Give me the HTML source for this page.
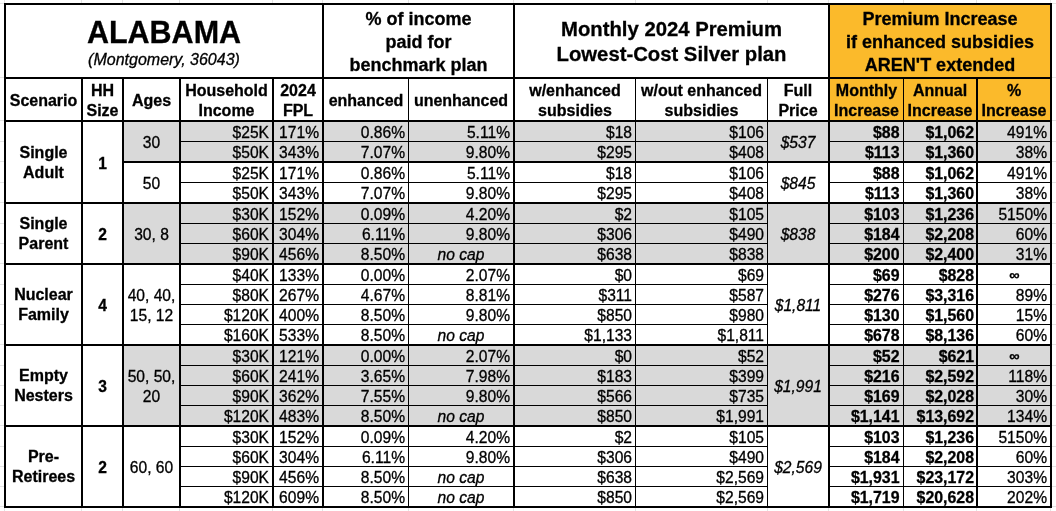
<!DOCTYPE html>
<html><head><meta charset="utf-8"><style>
html,body{margin:0;padding:0;background:#fff;width:1056px;height:511px;overflow:hidden;position:relative}
body div{position:absolute}
#w{left:0;top:0;width:1056px;height:511px;will-change:transform;-webkit-font-smoothing:antialiased}
.t{font-family:"Liberation Sans", sans-serif;white-space:nowrap;color:#000;-webkit-text-stroke:0.3px #000}
</style></head><body><div id="w">
<div style="left:828px;top:3px;width:224px;height:120px;background:#fbba2b"></div>
<div style="left:122px;top:120px;width:930px;height:22px;background:#d9d9d9"></div>
<div style="left:122px;top:141px;width:930px;height:22px;background:#d9d9d9"></div>
<div style="left:122px;top:202px;width:930px;height:22px;background:#d9d9d9"></div>
<div style="left:122px;top:223px;width:930px;height:21px;background:#d9d9d9"></div>
<div style="left:122px;top:243px;width:930px;height:22px;background:#d9d9d9"></div>
<div style="left:122px;top:344px;width:930px;height:22px;background:#d9d9d9"></div>
<div style="left:122px;top:365px;width:930px;height:21px;background:#d9d9d9"></div>
<div style="left:122px;top:385px;width:930px;height:21px;background:#d9d9d9"></div>
<div style="left:122px;top:405px;width:930px;height:22px;background:#d9d9d9"></div>
<div style="left:0px;top:3px;width:4px;height:1px;background:#e4e4e4"></div>
<div style="left:1052px;top:3px;width:4px;height:1px;background:#e4e4e4"></div>
<div style="left:0px;top:77px;width:4px;height:1px;background:#e4e4e4"></div>
<div style="left:1052px;top:77px;width:4px;height:1px;background:#e4e4e4"></div>
<div style="left:0px;top:120px;width:4px;height:1px;background:#e4e4e4"></div>
<div style="left:1052px;top:120px;width:4px;height:1px;background:#e4e4e4"></div>
<div style="left:0px;top:141px;width:4px;height:1px;background:#e4e4e4"></div>
<div style="left:1052px;top:141px;width:4px;height:1px;background:#e4e4e4"></div>
<div style="left:0px;top:161px;width:4px;height:1px;background:#e4e4e4"></div>
<div style="left:1052px;top:161px;width:4px;height:1px;background:#e4e4e4"></div>
<div style="left:0px;top:182px;width:4px;height:1px;background:#e4e4e4"></div>
<div style="left:1052px;top:182px;width:4px;height:1px;background:#e4e4e4"></div>
<div style="left:0px;top:202px;width:4px;height:1px;background:#e4e4e4"></div>
<div style="left:1052px;top:202px;width:4px;height:1px;background:#e4e4e4"></div>
<div style="left:0px;top:223px;width:4px;height:1px;background:#e4e4e4"></div>
<div style="left:1052px;top:223px;width:4px;height:1px;background:#e4e4e4"></div>
<div style="left:0px;top:243px;width:4px;height:1px;background:#e4e4e4"></div>
<div style="left:1052px;top:243px;width:4px;height:1px;background:#e4e4e4"></div>
<div style="left:0px;top:263px;width:4px;height:1px;background:#e4e4e4"></div>
<div style="left:1052px;top:263px;width:4px;height:1px;background:#e4e4e4"></div>
<div style="left:0px;top:284px;width:4px;height:1px;background:#e4e4e4"></div>
<div style="left:1052px;top:284px;width:4px;height:1px;background:#e4e4e4"></div>
<div style="left:0px;top:304px;width:4px;height:1px;background:#e4e4e4"></div>
<div style="left:1052px;top:304px;width:4px;height:1px;background:#e4e4e4"></div>
<div style="left:0px;top:324px;width:4px;height:1px;background:#e4e4e4"></div>
<div style="left:1052px;top:324px;width:4px;height:1px;background:#e4e4e4"></div>
<div style="left:0px;top:344px;width:4px;height:1px;background:#e4e4e4"></div>
<div style="left:1052px;top:344px;width:4px;height:1px;background:#e4e4e4"></div>
<div style="left:0px;top:365px;width:4px;height:1px;background:#e4e4e4"></div>
<div style="left:1052px;top:365px;width:4px;height:1px;background:#e4e4e4"></div>
<div style="left:0px;top:385px;width:4px;height:1px;background:#e4e4e4"></div>
<div style="left:1052px;top:385px;width:4px;height:1px;background:#e4e4e4"></div>
<div style="left:0px;top:405px;width:4px;height:1px;background:#e4e4e4"></div>
<div style="left:1052px;top:405px;width:4px;height:1px;background:#e4e4e4"></div>
<div style="left:0px;top:425px;width:4px;height:1px;background:#e4e4e4"></div>
<div style="left:1052px;top:425px;width:4px;height:1px;background:#e4e4e4"></div>
<div style="left:0px;top:446px;width:4px;height:1px;background:#e4e4e4"></div>
<div style="left:1052px;top:446px;width:4px;height:1px;background:#e4e4e4"></div>
<div style="left:0px;top:466px;width:4px;height:1px;background:#e4e4e4"></div>
<div style="left:1052px;top:466px;width:4px;height:1px;background:#e4e4e4"></div>
<div style="left:0px;top:486px;width:4px;height:1px;background:#e4e4e4"></div>
<div style="left:1052px;top:486px;width:4px;height:1px;background:#e4e4e4"></div>
<div style="left:0px;top:506px;width:4px;height:1px;background:#e4e4e4"></div>
<div style="left:1052px;top:506px;width:4px;height:1px;background:#e4e4e4"></div>
<div style="left:4px;top:0px;width:1px;height:3px;background:#e4e4e4"></div>
<div style="left:4px;top:508px;width:1px;height:3px;background:#e4e4e4"></div>
<div style="left:81px;top:0px;width:1px;height:3px;background:#e4e4e4"></div>
<div style="left:81px;top:508px;width:1px;height:3px;background:#e4e4e4"></div>
<div style="left:122px;top:0px;width:1px;height:3px;background:#e4e4e4"></div>
<div style="left:122px;top:508px;width:1px;height:3px;background:#e4e4e4"></div>
<div style="left:179px;top:0px;width:1px;height:3px;background:#e4e4e4"></div>
<div style="left:179px;top:508px;width:1px;height:3px;background:#e4e4e4"></div>
<div style="left:272px;top:0px;width:1px;height:3px;background:#e4e4e4"></div>
<div style="left:272px;top:508px;width:1px;height:3px;background:#e4e4e4"></div>
<div style="left:322px;top:0px;width:1px;height:3px;background:#e4e4e4"></div>
<div style="left:322px;top:508px;width:1px;height:3px;background:#e4e4e4"></div>
<div style="left:408px;top:0px;width:1px;height:3px;background:#e4e4e4"></div>
<div style="left:408px;top:508px;width:1px;height:3px;background:#e4e4e4"></div>
<div style="left:513px;top:0px;width:1px;height:3px;background:#e4e4e4"></div>
<div style="left:513px;top:508px;width:1px;height:3px;background:#e4e4e4"></div>
<div style="left:635px;top:0px;width:1px;height:3px;background:#e4e4e4"></div>
<div style="left:635px;top:508px;width:1px;height:3px;background:#e4e4e4"></div>
<div style="left:767px;top:0px;width:1px;height:3px;background:#e4e4e4"></div>
<div style="left:767px;top:508px;width:1px;height:3px;background:#e4e4e4"></div>
<div style="left:828px;top:0px;width:1px;height:3px;background:#e4e4e4"></div>
<div style="left:828px;top:508px;width:1px;height:3px;background:#e4e4e4"></div>
<div style="left:903px;top:0px;width:1px;height:3px;background:#e4e4e4"></div>
<div style="left:903px;top:508px;width:1px;height:3px;background:#e4e4e4"></div>
<div style="left:976px;top:0px;width:1px;height:3px;background:#e4e4e4"></div>
<div style="left:976px;top:508px;width:1px;height:3px;background:#e4e4e4"></div>
<div style="left:1050px;top:0px;width:1px;height:3px;background:#e4e4e4"></div>
<div style="left:1050px;top:508px;width:1px;height:3px;background:#e4e4e4"></div>
<div style="left:4px;top:3px;width:1048px;height:2px;background:#000"></div>
<div style="left:4px;top:506px;width:1048px;height:2px;background:#000"></div>
<div style="left:4px;top:3px;width:2px;height:505px;background:#000"></div>
<div style="left:1050px;top:3px;width:2px;height:505px;background:#000"></div>
<div style="left:4px;top:77px;width:1048px;height:2px;background:#000"></div>
<div style="left:322px;top:3px;width:2px;height:76px;background:#000"></div>
<div style="left:513px;top:3px;width:2px;height:76px;background:#000"></div>
<div style="left:828px;top:3px;width:2px;height:76px;background:#000"></div>
<div style="left:4px;top:120px;width:1048px;height:2px;background:#000"></div>
<div style="left:81px;top:77px;width:2px;height:429px;background:#000"></div>
<div style="left:122px;top:77px;width:2px;height:429px;background:#000"></div>
<div style="left:179px;top:77px;width:2px;height:429px;background:#000"></div>
<div style="left:272px;top:77px;width:2px;height:429px;background:#000"></div>
<div style="left:322px;top:77px;width:2px;height:429px;background:#000"></div>
<div style="left:408px;top:77px;width:1px;height:429px;background:#000"></div>
<div style="left:513px;top:77px;width:2px;height:429px;background:#000"></div>
<div style="left:635px;top:77px;width:1px;height:429px;background:#000"></div>
<div style="left:767px;top:77px;width:1px;height:429px;background:#000"></div>
<div style="left:828px;top:77px;width:2px;height:429px;background:#000"></div>
<div style="left:903px;top:77px;width:1px;height:429px;background:#000"></div>
<div style="left:976px;top:77px;width:2px;height:429px;background:#000"></div>
<div style="left:179px;top:141px;width:589px;height:1px;background:#000"></div>
<div style="left:828px;top:141px;width:224px;height:1px;background:#000"></div>
<div style="left:122px;top:161px;width:59px;height:2px;background:#000"></div>
<div style="left:179px;top:161px;width:589px;height:2px;background:#000"></div>
<div style="left:767px;top:161px;width:63px;height:2px;background:#000"></div>
<div style="left:828px;top:161px;width:224px;height:2px;background:#000"></div>
<div style="left:179px;top:182px;width:589px;height:1px;background:#000"></div>
<div style="left:828px;top:182px;width:224px;height:1px;background:#000"></div>
<div style="left:4px;top:202px;width:1048px;height:2px;background:#000"></div>
<div style="left:179px;top:223px;width:589px;height:1px;background:#000"></div>
<div style="left:828px;top:223px;width:224px;height:1px;background:#000"></div>
<div style="left:179px;top:243px;width:589px;height:1px;background:#000"></div>
<div style="left:828px;top:243px;width:224px;height:1px;background:#000"></div>
<div style="left:4px;top:263px;width:1048px;height:2px;background:#000"></div>
<div style="left:179px;top:284px;width:589px;height:1px;background:#000"></div>
<div style="left:828px;top:284px;width:224px;height:1px;background:#000"></div>
<div style="left:179px;top:304px;width:589px;height:1px;background:#000"></div>
<div style="left:828px;top:304px;width:224px;height:1px;background:#000"></div>
<div style="left:179px;top:324px;width:589px;height:1px;background:#000"></div>
<div style="left:828px;top:324px;width:224px;height:1px;background:#000"></div>
<div style="left:4px;top:344px;width:1048px;height:2px;background:#000"></div>
<div style="left:179px;top:365px;width:589px;height:1px;background:#000"></div>
<div style="left:828px;top:365px;width:224px;height:1px;background:#000"></div>
<div style="left:179px;top:385px;width:589px;height:1px;background:#000"></div>
<div style="left:828px;top:385px;width:224px;height:1px;background:#000"></div>
<div style="left:179px;top:405px;width:589px;height:1px;background:#000"></div>
<div style="left:828px;top:405px;width:224px;height:1px;background:#000"></div>
<div style="left:4px;top:425px;width:1048px;height:2px;background:#000"></div>
<div style="left:179px;top:446px;width:589px;height:1px;background:#000"></div>
<div style="left:828px;top:446px;width:224px;height:1px;background:#000"></div>
<div style="left:179px;top:466px;width:589px;height:1px;background:#000"></div>
<div style="left:828px;top:466px;width:224px;height:1px;background:#000"></div>
<div style="left:179px;top:486px;width:589px;height:1px;background:#000"></div>
<div style="left:828px;top:486px;width:224px;height:1px;background:#000"></div>
<div class="t" style="left:6px;width:316px;text-align:center;top:17.18px;font-size:30.5px;line-height:30.5px;font-weight:bold">ALABAMA</div>
<div class="t" style="left:6px;width:316px;text-align:center;top:52.46px;font-size:16px;line-height:16px;font-style:italic">(Montgomery, 36043)</div>
<div class="t" style="left:324px;width:189px;text-align:center;top:9.76px;font-size:18px;line-height:18px;font-weight:bold">% of income</div>
<div class="t" style="left:324px;width:189px;text-align:center;top:32.76px;font-size:18px;line-height:18px;font-weight:bold">paid for</div>
<div class="t" style="left:324px;width:189px;text-align:center;top:55.76px;font-size:18px;line-height:18px;font-weight:bold">benchmark plan</div>
<div class="t" style="left:515px;width:313px;text-align:center;top:18.82px;font-size:20.3px;line-height:20.3px;font-weight:bold">Monthly 2024 Premium</div>
<div class="t" style="left:515px;width:313px;text-align:center;top:43.82px;font-size:20.3px;line-height:20.3px;font-weight:bold">Lowest-Cost Silver plan</div>
<div class="t" style="left:830px;width:220px;text-align:center;top:9.76px;font-size:18px;line-height:18px;font-weight:bold">Premium Increase</div>
<div class="t" style="left:830px;width:220px;text-align:center;top:32.76px;font-size:18px;line-height:18px;font-weight:bold">if enhanced subsidies</div>
<div class="t" style="left:830px;width:220px;text-align:center;top:55.76px;font-size:18px;line-height:18px;font-weight:bold">AREN'T extended</div>
<div class="t" style="left:6px;width:75px;text-align:center;top:93.46px;font-size:16px;line-height:16px;font-weight:bold">Scenario</div>
<div class="t" style="left:83px;width:39px;text-align:center;top:83.46px;font-size:16px;line-height:16px;font-weight:bold">HH</div>
<div class="t" style="left:83px;width:39px;text-align:center;top:103.46px;font-size:16px;line-height:16px;font-weight:bold">Size</div>
<div class="t" style="left:124px;width:55px;text-align:center;top:93.46px;font-size:16px;line-height:16px;font-weight:bold">Ages</div>
<div class="t" style="left:181px;width:91px;text-align:center;top:83.46px;font-size:16px;line-height:16px;font-weight:bold">Household</div>
<div class="t" style="left:181px;width:91px;text-align:center;top:103.46px;font-size:16px;line-height:16px;font-weight:bold">Income</div>
<div class="t" style="left:274px;width:48px;text-align:center;top:83.46px;font-size:16px;line-height:16px;font-weight:bold">2024</div>
<div class="t" style="left:274px;width:48px;text-align:center;top:103.46px;font-size:16px;line-height:16px;font-weight:bold">FPL</div>
<div class="t" style="left:324px;width:84px;text-align:center;top:93.46px;font-size:16px;line-height:16px;font-weight:bold">enhanced</div>
<div class="t" style="left:409px;width:104px;text-align:center;top:93.46px;font-size:16px;line-height:16px;font-weight:bold">unenhanced</div>
<div class="t" style="left:515px;width:120px;text-align:center;top:83.46px;font-size:16px;line-height:16px;font-weight:bold">w/enhanced</div>
<div class="t" style="left:515px;width:120px;text-align:center;top:103.46px;font-size:16px;line-height:16px;font-weight:bold">subsidies</div>
<div class="t" style="left:636px;width:131px;text-align:center;top:83.46px;font-size:16px;line-height:16px;font-weight:bold">w/out enhanced</div>
<div class="t" style="left:636px;width:131px;text-align:center;top:103.46px;font-size:16px;line-height:16px;font-weight:bold">subsidies</div>
<div class="t" style="left:768px;width:60px;text-align:center;top:83.46px;font-size:16px;line-height:16px;font-weight:bold">Full</div>
<div class="t" style="left:768px;width:60px;text-align:center;top:103.46px;font-size:16px;line-height:16px;font-weight:bold">Price</div>
<div class="t" style="left:830px;width:73px;text-align:center;top:83.46px;font-size:16px;line-height:16px;font-weight:bold">Monthly</div>
<div class="t" style="left:830px;width:73px;text-align:center;top:103.46px;font-size:16px;line-height:16px;font-weight:bold">Increase</div>
<div class="t" style="left:904px;width:72px;text-align:center;top:83.46px;font-size:16px;line-height:16px;font-weight:bold">Annual</div>
<div class="t" style="left:904px;width:72px;text-align:center;top:103.46px;font-size:16px;line-height:16px;font-weight:bold">Increase</div>
<div class="t" style="left:978px;width:72px;text-align:center;top:83.46px;font-size:16px;line-height:16px;font-weight:bold">%</div>
<div class="t" style="left:978px;width:72px;text-align:center;top:103.46px;font-size:16px;line-height:16px;font-weight:bold">Increase</div>
<div class="t" style="left:6px;width:75px;text-align:center;top:144.96px;font-size:16px;line-height:16px;font-weight:bold">Single</div>
<div class="t" style="left:6px;width:75px;text-align:center;top:164.76px;font-size:16px;line-height:16px;font-weight:bold">Adult</div>
<div class="t" style="left:83px;width:39px;text-align:center;top:155.79px;font-size:15.6px;line-height:15.6px;font-weight:bold">1</div>
<div class="t" style="left:124px;width:55px;text-align:center;top:135.29px;font-size:15.6px;line-height:15.6px">30</div>
<div class="t" style="left:124px;width:55px;text-align:center;top:176.29px;font-size:15.6px;line-height:15.6px">50</div>
<div class="t" style="left:768px;width:60px;text-align:center;top:135.09px;font-size:15.6px;line-height:15.6px;font-style:italic">$537</div>
<div class="t" style="left:768px;width:60px;text-align:center;top:176.09px;font-size:15.6px;line-height:15.6px;font-style:italic">$845</div>
<div class="t" style="left:6px;width:75px;text-align:center;top:216.46px;font-size:16px;line-height:16px;font-weight:bold">Single</div>
<div class="t" style="left:6px;width:75px;text-align:center;top:236.26px;font-size:16px;line-height:16px;font-weight:bold">Parent</div>
<div class="t" style="left:83px;width:39px;text-align:center;top:227.29px;font-size:15.6px;line-height:15.6px;font-weight:bold">2</div>
<div class="t" style="left:124px;width:55px;text-align:center;top:227.29px;font-size:15.6px;line-height:15.6px">30, 8</div>
<div class="t" style="left:768px;width:60px;text-align:center;top:227.09px;font-size:15.6px;line-height:15.6px;font-style:italic">$838</div>
<div class="t" style="left:6px;width:75px;text-align:center;top:287.46px;font-size:16px;line-height:16px;font-weight:bold">Nuclear</div>
<div class="t" style="left:6px;width:75px;text-align:center;top:307.26px;font-size:16px;line-height:16px;font-weight:bold">Family</div>
<div class="t" style="left:83px;width:39px;text-align:center;top:298.29px;font-size:15.6px;line-height:15.6px;font-weight:bold">4</div>
<div class="t" style="left:124px;width:55px;text-align:center;top:288.29px;font-size:15.6px;line-height:15.6px">40, 40,</div>
<div class="t" style="left:124px;width:55px;text-align:center;top:308.29px;font-size:15.6px;line-height:15.6px">15, 12</div>
<div class="t" style="left:768px;width:60px;text-align:center;top:298.09px;font-size:15.6px;line-height:15.6px;font-style:italic">$1,811</div>
<div class="t" style="left:6px;width:75px;text-align:center;top:368.46px;font-size:16px;line-height:16px;font-weight:bold">Empty</div>
<div class="t" style="left:6px;width:75px;text-align:center;top:388.26px;font-size:16px;line-height:16px;font-weight:bold">Nesters</div>
<div class="t" style="left:83px;width:39px;text-align:center;top:379.29px;font-size:15.6px;line-height:15.6px;font-weight:bold">3</div>
<div class="t" style="left:124px;width:55px;text-align:center;top:369.29px;font-size:15.6px;line-height:15.6px">50, 50,</div>
<div class="t" style="left:124px;width:55px;text-align:center;top:389.29px;font-size:15.6px;line-height:15.6px">20</div>
<div class="t" style="left:768px;width:60px;text-align:center;top:379.09px;font-size:15.6px;line-height:15.6px;font-style:italic">$1,991</div>
<div class="t" style="left:6px;width:75px;text-align:center;top:449.46px;font-size:16px;line-height:16px;font-weight:bold">Pre-</div>
<div class="t" style="left:6px;width:75px;text-align:center;top:469.26px;font-size:16px;line-height:16px;font-weight:bold">Retirees</div>
<div class="t" style="left:83px;width:39px;text-align:center;top:460.29px;font-size:15.6px;line-height:15.6px;font-weight:bold">2</div>
<div class="t" style="left:124px;width:55px;text-align:center;top:460.29px;font-size:15.6px;line-height:15.6px">60, 60</div>
<div class="t" style="left:768px;width:60px;text-align:center;top:460.09px;font-size:15.6px;line-height:15.6px;font-style:italic">$2,569</div>
<div class="t" style="left:181px;width:88px;text-align:right;top:125.29px;font-size:15.6px;line-height:15.6px">$25K</div>
<div class="t" style="left:274px;width:45px;text-align:right;top:125.29px;font-size:15.6px;line-height:15.6px">171%</div>
<div class="t" style="left:324px;width:81px;text-align:right;top:125.29px;font-size:15.6px;line-height:15.6px">0.86%</div>
<div class="t" style="left:409px;width:101px;text-align:right;top:125.29px;font-size:15.6px;line-height:15.6px">5.11%</div>
<div class="t" style="left:515px;width:117px;text-align:right;top:125.29px;font-size:15.6px;line-height:15.6px">$18</div>
<div class="t" style="left:636px;width:128px;text-align:right;top:125.29px;font-size:15.6px;line-height:15.6px">$106</div>
<div class="t" style="left:830px;width:69.5px;text-align:right;top:125.04px;font-size:15.9px;line-height:15.9px;font-weight:bold">$88</div>
<div class="t" style="left:904px;width:70px;text-align:right;top:125.04px;font-size:15.9px;line-height:15.9px;font-weight:bold">$1,062</div>
<div class="t" style="left:978px;width:69px;text-align:right;top:125.29px;font-size:15.6px;line-height:15.6px">491%</div>
<div class="t" style="left:181px;width:88px;text-align:right;top:145.29px;font-size:15.6px;line-height:15.6px">$50K</div>
<div class="t" style="left:274px;width:45px;text-align:right;top:145.29px;font-size:15.6px;line-height:15.6px">343%</div>
<div class="t" style="left:324px;width:81px;text-align:right;top:145.29px;font-size:15.6px;line-height:15.6px">7.07%</div>
<div class="t" style="left:409px;width:101px;text-align:right;top:145.29px;font-size:15.6px;line-height:15.6px">9.80%</div>
<div class="t" style="left:515px;width:117px;text-align:right;top:145.29px;font-size:15.6px;line-height:15.6px">$295</div>
<div class="t" style="left:636px;width:128px;text-align:right;top:145.29px;font-size:15.6px;line-height:15.6px">$408</div>
<div class="t" style="left:830px;width:69.5px;text-align:right;top:145.04px;font-size:15.9px;line-height:15.9px;font-weight:bold">$113</div>
<div class="t" style="left:904px;width:70px;text-align:right;top:145.04px;font-size:15.9px;line-height:15.9px;font-weight:bold">$1,360</div>
<div class="t" style="left:978px;width:69px;text-align:right;top:145.29px;font-size:15.6px;line-height:15.6px">38%</div>
<div class="t" style="left:181px;width:88px;text-align:right;top:166.29px;font-size:15.6px;line-height:15.6px">$25K</div>
<div class="t" style="left:274px;width:45px;text-align:right;top:166.29px;font-size:15.6px;line-height:15.6px">171%</div>
<div class="t" style="left:324px;width:81px;text-align:right;top:166.29px;font-size:15.6px;line-height:15.6px">0.86%</div>
<div class="t" style="left:409px;width:101px;text-align:right;top:166.29px;font-size:15.6px;line-height:15.6px">5.11%</div>
<div class="t" style="left:515px;width:117px;text-align:right;top:166.29px;font-size:15.6px;line-height:15.6px">$18</div>
<div class="t" style="left:636px;width:128px;text-align:right;top:166.29px;font-size:15.6px;line-height:15.6px">$106</div>
<div class="t" style="left:830px;width:69.5px;text-align:right;top:166.04px;font-size:15.9px;line-height:15.9px;font-weight:bold">$88</div>
<div class="t" style="left:904px;width:70px;text-align:right;top:166.04px;font-size:15.9px;line-height:15.9px;font-weight:bold">$1,062</div>
<div class="t" style="left:978px;width:69px;text-align:right;top:166.29px;font-size:15.6px;line-height:15.6px">491%</div>
<div class="t" style="left:181px;width:88px;text-align:right;top:186.29px;font-size:15.6px;line-height:15.6px">$50K</div>
<div class="t" style="left:274px;width:45px;text-align:right;top:186.29px;font-size:15.6px;line-height:15.6px">343%</div>
<div class="t" style="left:324px;width:81px;text-align:right;top:186.29px;font-size:15.6px;line-height:15.6px">7.07%</div>
<div class="t" style="left:409px;width:101px;text-align:right;top:186.29px;font-size:15.6px;line-height:15.6px">9.80%</div>
<div class="t" style="left:515px;width:117px;text-align:right;top:186.29px;font-size:15.6px;line-height:15.6px">$295</div>
<div class="t" style="left:636px;width:128px;text-align:right;top:186.29px;font-size:15.6px;line-height:15.6px">$408</div>
<div class="t" style="left:830px;width:69.5px;text-align:right;top:186.04px;font-size:15.9px;line-height:15.9px;font-weight:bold">$113</div>
<div class="t" style="left:904px;width:70px;text-align:right;top:186.04px;font-size:15.9px;line-height:15.9px;font-weight:bold">$1,360</div>
<div class="t" style="left:978px;width:69px;text-align:right;top:186.29px;font-size:15.6px;line-height:15.6px">38%</div>
<div class="t" style="left:181px;width:88px;text-align:right;top:207.29px;font-size:15.6px;line-height:15.6px">$30K</div>
<div class="t" style="left:274px;width:45px;text-align:right;top:207.29px;font-size:15.6px;line-height:15.6px">152%</div>
<div class="t" style="left:324px;width:81px;text-align:right;top:207.29px;font-size:15.6px;line-height:15.6px">0.09%</div>
<div class="t" style="left:409px;width:101px;text-align:right;top:207.29px;font-size:15.6px;line-height:15.6px">4.20%</div>
<div class="t" style="left:515px;width:117px;text-align:right;top:207.29px;font-size:15.6px;line-height:15.6px">$2</div>
<div class="t" style="left:636px;width:128px;text-align:right;top:207.29px;font-size:15.6px;line-height:15.6px">$105</div>
<div class="t" style="left:830px;width:69.5px;text-align:right;top:207.04px;font-size:15.9px;line-height:15.9px;font-weight:bold">$103</div>
<div class="t" style="left:904px;width:70px;text-align:right;top:207.04px;font-size:15.9px;line-height:15.9px;font-weight:bold">$1,236</div>
<div class="t" style="left:978px;width:69px;text-align:right;top:207.29px;font-size:15.6px;line-height:15.6px">5150%</div>
<div class="t" style="left:181px;width:88px;text-align:right;top:227.29px;font-size:15.6px;line-height:15.6px">$60K</div>
<div class="t" style="left:274px;width:45px;text-align:right;top:227.29px;font-size:15.6px;line-height:15.6px">304%</div>
<div class="t" style="left:324px;width:81px;text-align:right;top:227.29px;font-size:15.6px;line-height:15.6px">6.11%</div>
<div class="t" style="left:409px;width:101px;text-align:right;top:227.29px;font-size:15.6px;line-height:15.6px">9.80%</div>
<div class="t" style="left:515px;width:117px;text-align:right;top:227.29px;font-size:15.6px;line-height:15.6px">$306</div>
<div class="t" style="left:636px;width:128px;text-align:right;top:227.29px;font-size:15.6px;line-height:15.6px">$490</div>
<div class="t" style="left:830px;width:69.5px;text-align:right;top:227.04px;font-size:15.9px;line-height:15.9px;font-weight:bold">$184</div>
<div class="t" style="left:904px;width:70px;text-align:right;top:227.04px;font-size:15.9px;line-height:15.9px;font-weight:bold">$2,208</div>
<div class="t" style="left:978px;width:69px;text-align:right;top:227.29px;font-size:15.6px;line-height:15.6px">60%</div>
<div class="t" style="left:181px;width:88px;text-align:right;top:247.29px;font-size:15.6px;line-height:15.6px">$90K</div>
<div class="t" style="left:274px;width:45px;text-align:right;top:247.29px;font-size:15.6px;line-height:15.6px">456%</div>
<div class="t" style="left:324px;width:81px;text-align:right;top:247.29px;font-size:15.6px;line-height:15.6px">8.50%</div>
<div class="t" style="left:409px;width:104px;text-align:center;top:247.29px;font-size:15.6px;line-height:15.6px;font-style:italic">no cap</div>
<div class="t" style="left:515px;width:117px;text-align:right;top:247.29px;font-size:15.6px;line-height:15.6px">$638</div>
<div class="t" style="left:636px;width:128px;text-align:right;top:247.29px;font-size:15.6px;line-height:15.6px">$838</div>
<div class="t" style="left:830px;width:69.5px;text-align:right;top:247.04px;font-size:15.9px;line-height:15.9px;font-weight:bold">$200</div>
<div class="t" style="left:904px;width:70px;text-align:right;top:247.04px;font-size:15.9px;line-height:15.9px;font-weight:bold">$2,400</div>
<div class="t" style="left:978px;width:69px;text-align:right;top:247.29px;font-size:15.6px;line-height:15.6px">31%</div>
<div class="t" style="left:181px;width:88px;text-align:right;top:268.29px;font-size:15.6px;line-height:15.6px">$40K</div>
<div class="t" style="left:274px;width:45px;text-align:right;top:268.29px;font-size:15.6px;line-height:15.6px">133%</div>
<div class="t" style="left:324px;width:81px;text-align:right;top:268.29px;font-size:15.6px;line-height:15.6px">0.00%</div>
<div class="t" style="left:409px;width:101px;text-align:right;top:268.29px;font-size:15.6px;line-height:15.6px">2.07%</div>
<div class="t" style="left:515px;width:117px;text-align:right;top:268.29px;font-size:15.6px;line-height:15.6px">$0</div>
<div class="t" style="left:636px;width:128px;text-align:right;top:268.29px;font-size:15.6px;line-height:15.6px">$69</div>
<div class="t" style="left:830px;width:69.5px;text-align:right;top:268.04px;font-size:15.9px;line-height:15.9px;font-weight:bold">$69</div>
<div class="t" style="left:904px;width:70px;text-align:right;top:268.04px;font-size:15.9px;line-height:15.9px;font-weight:bold">$828</div>
<div class="t" style="left:979px;width:71px;text-align:center;top:268.23px;font-size:14.5px;line-height:14.5px;font-weight:bold">∞</div>
<div class="t" style="left:181px;width:88px;text-align:right;top:288.29px;font-size:15.6px;line-height:15.6px">$80K</div>
<div class="t" style="left:274px;width:45px;text-align:right;top:288.29px;font-size:15.6px;line-height:15.6px">267%</div>
<div class="t" style="left:324px;width:81px;text-align:right;top:288.29px;font-size:15.6px;line-height:15.6px">4.67%</div>
<div class="t" style="left:409px;width:101px;text-align:right;top:288.29px;font-size:15.6px;line-height:15.6px">8.81%</div>
<div class="t" style="left:515px;width:117px;text-align:right;top:288.29px;font-size:15.6px;line-height:15.6px">$311</div>
<div class="t" style="left:636px;width:128px;text-align:right;top:288.29px;font-size:15.6px;line-height:15.6px">$587</div>
<div class="t" style="left:830px;width:69.5px;text-align:right;top:288.04px;font-size:15.9px;line-height:15.9px;font-weight:bold">$276</div>
<div class="t" style="left:904px;width:70px;text-align:right;top:288.04px;font-size:15.9px;line-height:15.9px;font-weight:bold">$3,316</div>
<div class="t" style="left:978px;width:69px;text-align:right;top:288.29px;font-size:15.6px;line-height:15.6px">89%</div>
<div class="t" style="left:181px;width:88px;text-align:right;top:308.29px;font-size:15.6px;line-height:15.6px">$120K</div>
<div class="t" style="left:274px;width:45px;text-align:right;top:308.29px;font-size:15.6px;line-height:15.6px">400%</div>
<div class="t" style="left:324px;width:81px;text-align:right;top:308.29px;font-size:15.6px;line-height:15.6px">8.50%</div>
<div class="t" style="left:409px;width:101px;text-align:right;top:308.29px;font-size:15.6px;line-height:15.6px">9.80%</div>
<div class="t" style="left:515px;width:117px;text-align:right;top:308.29px;font-size:15.6px;line-height:15.6px">$850</div>
<div class="t" style="left:636px;width:128px;text-align:right;top:308.29px;font-size:15.6px;line-height:15.6px">$980</div>
<div class="t" style="left:830px;width:69.5px;text-align:right;top:308.04px;font-size:15.9px;line-height:15.9px;font-weight:bold">$130</div>
<div class="t" style="left:904px;width:70px;text-align:right;top:308.04px;font-size:15.9px;line-height:15.9px;font-weight:bold">$1,560</div>
<div class="t" style="left:978px;width:69px;text-align:right;top:308.29px;font-size:15.6px;line-height:15.6px">15%</div>
<div class="t" style="left:181px;width:88px;text-align:right;top:328.29px;font-size:15.6px;line-height:15.6px">$160K</div>
<div class="t" style="left:274px;width:45px;text-align:right;top:328.29px;font-size:15.6px;line-height:15.6px">533%</div>
<div class="t" style="left:324px;width:81px;text-align:right;top:328.29px;font-size:15.6px;line-height:15.6px">8.50%</div>
<div class="t" style="left:409px;width:104px;text-align:center;top:328.29px;font-size:15.6px;line-height:15.6px;font-style:italic">no cap</div>
<div class="t" style="left:515px;width:117px;text-align:right;top:328.29px;font-size:15.6px;line-height:15.6px">$1,133</div>
<div class="t" style="left:636px;width:128px;text-align:right;top:328.29px;font-size:15.6px;line-height:15.6px">$1,811</div>
<div class="t" style="left:830px;width:69.5px;text-align:right;top:328.04px;font-size:15.9px;line-height:15.9px;font-weight:bold">$678</div>
<div class="t" style="left:904px;width:70px;text-align:right;top:328.04px;font-size:15.9px;line-height:15.9px;font-weight:bold">$8,136</div>
<div class="t" style="left:978px;width:69px;text-align:right;top:328.29px;font-size:15.6px;line-height:15.6px">60%</div>
<div class="t" style="left:181px;width:88px;text-align:right;top:349.29px;font-size:15.6px;line-height:15.6px">$30K</div>
<div class="t" style="left:274px;width:45px;text-align:right;top:349.29px;font-size:15.6px;line-height:15.6px">121%</div>
<div class="t" style="left:324px;width:81px;text-align:right;top:349.29px;font-size:15.6px;line-height:15.6px">0.00%</div>
<div class="t" style="left:409px;width:101px;text-align:right;top:349.29px;font-size:15.6px;line-height:15.6px">2.07%</div>
<div class="t" style="left:515px;width:117px;text-align:right;top:349.29px;font-size:15.6px;line-height:15.6px">$0</div>
<div class="t" style="left:636px;width:128px;text-align:right;top:349.29px;font-size:15.6px;line-height:15.6px">$52</div>
<div class="t" style="left:830px;width:69.5px;text-align:right;top:349.04px;font-size:15.9px;line-height:15.9px;font-weight:bold">$52</div>
<div class="t" style="left:904px;width:70px;text-align:right;top:349.04px;font-size:15.9px;line-height:15.9px;font-weight:bold">$621</div>
<div class="t" style="left:979px;width:71px;text-align:center;top:349.23px;font-size:14.5px;line-height:14.5px;font-weight:bold">∞</div>
<div class="t" style="left:181px;width:88px;text-align:right;top:369.29px;font-size:15.6px;line-height:15.6px">$60K</div>
<div class="t" style="left:274px;width:45px;text-align:right;top:369.29px;font-size:15.6px;line-height:15.6px">241%</div>
<div class="t" style="left:324px;width:81px;text-align:right;top:369.29px;font-size:15.6px;line-height:15.6px">3.65%</div>
<div class="t" style="left:409px;width:101px;text-align:right;top:369.29px;font-size:15.6px;line-height:15.6px">7.98%</div>
<div class="t" style="left:515px;width:117px;text-align:right;top:369.29px;font-size:15.6px;line-height:15.6px">$183</div>
<div class="t" style="left:636px;width:128px;text-align:right;top:369.29px;font-size:15.6px;line-height:15.6px">$399</div>
<div class="t" style="left:830px;width:69.5px;text-align:right;top:369.04px;font-size:15.9px;line-height:15.9px;font-weight:bold">$216</div>
<div class="t" style="left:904px;width:70px;text-align:right;top:369.04px;font-size:15.9px;line-height:15.9px;font-weight:bold">$2,592</div>
<div class="t" style="left:978px;width:69px;text-align:right;top:369.29px;font-size:15.6px;line-height:15.6px">118%</div>
<div class="t" style="left:181px;width:88px;text-align:right;top:389.29px;font-size:15.6px;line-height:15.6px">$90K</div>
<div class="t" style="left:274px;width:45px;text-align:right;top:389.29px;font-size:15.6px;line-height:15.6px">362%</div>
<div class="t" style="left:324px;width:81px;text-align:right;top:389.29px;font-size:15.6px;line-height:15.6px">7.55%</div>
<div class="t" style="left:409px;width:101px;text-align:right;top:389.29px;font-size:15.6px;line-height:15.6px">9.80%</div>
<div class="t" style="left:515px;width:117px;text-align:right;top:389.29px;font-size:15.6px;line-height:15.6px">$566</div>
<div class="t" style="left:636px;width:128px;text-align:right;top:389.29px;font-size:15.6px;line-height:15.6px">$735</div>
<div class="t" style="left:830px;width:69.5px;text-align:right;top:389.04px;font-size:15.9px;line-height:15.9px;font-weight:bold">$169</div>
<div class="t" style="left:904px;width:70px;text-align:right;top:389.04px;font-size:15.9px;line-height:15.9px;font-weight:bold">$2,028</div>
<div class="t" style="left:978px;width:69px;text-align:right;top:389.29px;font-size:15.6px;line-height:15.6px">30%</div>
<div class="t" style="left:181px;width:88px;text-align:right;top:409.29px;font-size:15.6px;line-height:15.6px">$120K</div>
<div class="t" style="left:274px;width:45px;text-align:right;top:409.29px;font-size:15.6px;line-height:15.6px">483%</div>
<div class="t" style="left:324px;width:81px;text-align:right;top:409.29px;font-size:15.6px;line-height:15.6px">8.50%</div>
<div class="t" style="left:409px;width:104px;text-align:center;top:409.29px;font-size:15.6px;line-height:15.6px;font-style:italic">no cap</div>
<div class="t" style="left:515px;width:117px;text-align:right;top:409.29px;font-size:15.6px;line-height:15.6px">$850</div>
<div class="t" style="left:636px;width:128px;text-align:right;top:409.29px;font-size:15.6px;line-height:15.6px">$1,991</div>
<div class="t" style="left:830px;width:69.5px;text-align:right;top:409.04px;font-size:15.9px;line-height:15.9px;font-weight:bold">$1,141</div>
<div class="t" style="left:904px;width:70px;text-align:right;top:409.04px;font-size:15.9px;line-height:15.9px;font-weight:bold">$13,692</div>
<div class="t" style="left:978px;width:69px;text-align:right;top:409.29px;font-size:15.6px;line-height:15.6px">134%</div>
<div class="t" style="left:181px;width:88px;text-align:right;top:430.29px;font-size:15.6px;line-height:15.6px">$30K</div>
<div class="t" style="left:274px;width:45px;text-align:right;top:430.29px;font-size:15.6px;line-height:15.6px">152%</div>
<div class="t" style="left:324px;width:81px;text-align:right;top:430.29px;font-size:15.6px;line-height:15.6px">0.09%</div>
<div class="t" style="left:409px;width:101px;text-align:right;top:430.29px;font-size:15.6px;line-height:15.6px">4.20%</div>
<div class="t" style="left:515px;width:117px;text-align:right;top:430.29px;font-size:15.6px;line-height:15.6px">$2</div>
<div class="t" style="left:636px;width:128px;text-align:right;top:430.29px;font-size:15.6px;line-height:15.6px">$105</div>
<div class="t" style="left:830px;width:69.5px;text-align:right;top:430.04px;font-size:15.9px;line-height:15.9px;font-weight:bold">$103</div>
<div class="t" style="left:904px;width:70px;text-align:right;top:430.04px;font-size:15.9px;line-height:15.9px;font-weight:bold">$1,236</div>
<div class="t" style="left:978px;width:69px;text-align:right;top:430.29px;font-size:15.6px;line-height:15.6px">5150%</div>
<div class="t" style="left:181px;width:88px;text-align:right;top:450.29px;font-size:15.6px;line-height:15.6px">$60K</div>
<div class="t" style="left:274px;width:45px;text-align:right;top:450.29px;font-size:15.6px;line-height:15.6px">304%</div>
<div class="t" style="left:324px;width:81px;text-align:right;top:450.29px;font-size:15.6px;line-height:15.6px">6.11%</div>
<div class="t" style="left:409px;width:101px;text-align:right;top:450.29px;font-size:15.6px;line-height:15.6px">9.80%</div>
<div class="t" style="left:515px;width:117px;text-align:right;top:450.29px;font-size:15.6px;line-height:15.6px">$306</div>
<div class="t" style="left:636px;width:128px;text-align:right;top:450.29px;font-size:15.6px;line-height:15.6px">$490</div>
<div class="t" style="left:830px;width:69.5px;text-align:right;top:450.04px;font-size:15.9px;line-height:15.9px;font-weight:bold">$184</div>
<div class="t" style="left:904px;width:70px;text-align:right;top:450.04px;font-size:15.9px;line-height:15.9px;font-weight:bold">$2,208</div>
<div class="t" style="left:978px;width:69px;text-align:right;top:450.29px;font-size:15.6px;line-height:15.6px">60%</div>
<div class="t" style="left:181px;width:88px;text-align:right;top:470.29px;font-size:15.6px;line-height:15.6px">$90K</div>
<div class="t" style="left:274px;width:45px;text-align:right;top:470.29px;font-size:15.6px;line-height:15.6px">456%</div>
<div class="t" style="left:324px;width:81px;text-align:right;top:470.29px;font-size:15.6px;line-height:15.6px">8.50%</div>
<div class="t" style="left:409px;width:104px;text-align:center;top:470.29px;font-size:15.6px;line-height:15.6px;font-style:italic">no cap</div>
<div class="t" style="left:515px;width:117px;text-align:right;top:470.29px;font-size:15.6px;line-height:15.6px">$638</div>
<div class="t" style="left:636px;width:128px;text-align:right;top:470.29px;font-size:15.6px;line-height:15.6px">$2,569</div>
<div class="t" style="left:830px;width:69.5px;text-align:right;top:470.04px;font-size:15.9px;line-height:15.9px;font-weight:bold">$1,931</div>
<div class="t" style="left:904px;width:70px;text-align:right;top:470.04px;font-size:15.9px;line-height:15.9px;font-weight:bold">$23,172</div>
<div class="t" style="left:978px;width:69px;text-align:right;top:470.29px;font-size:15.6px;line-height:15.6px">303%</div>
<div class="t" style="left:181px;width:88px;text-align:right;top:490.29px;font-size:15.6px;line-height:15.6px">$120K</div>
<div class="t" style="left:274px;width:45px;text-align:right;top:490.29px;font-size:15.6px;line-height:15.6px">609%</div>
<div class="t" style="left:324px;width:81px;text-align:right;top:490.29px;font-size:15.6px;line-height:15.6px">8.50%</div>
<div class="t" style="left:409px;width:104px;text-align:center;top:490.29px;font-size:15.6px;line-height:15.6px;font-style:italic">no cap</div>
<div class="t" style="left:515px;width:117px;text-align:right;top:490.29px;font-size:15.6px;line-height:15.6px">$850</div>
<div class="t" style="left:636px;width:128px;text-align:right;top:490.29px;font-size:15.6px;line-height:15.6px">$2,569</div>
<div class="t" style="left:830px;width:69.5px;text-align:right;top:490.04px;font-size:15.9px;line-height:15.9px;font-weight:bold">$1,719</div>
<div class="t" style="left:904px;width:70px;text-align:right;top:490.04px;font-size:15.9px;line-height:15.9px;font-weight:bold">$20,628</div>
<div class="t" style="left:978px;width:69px;text-align:right;top:490.29px;font-size:15.6px;line-height:15.6px">202%</div>
</div></body></html>
